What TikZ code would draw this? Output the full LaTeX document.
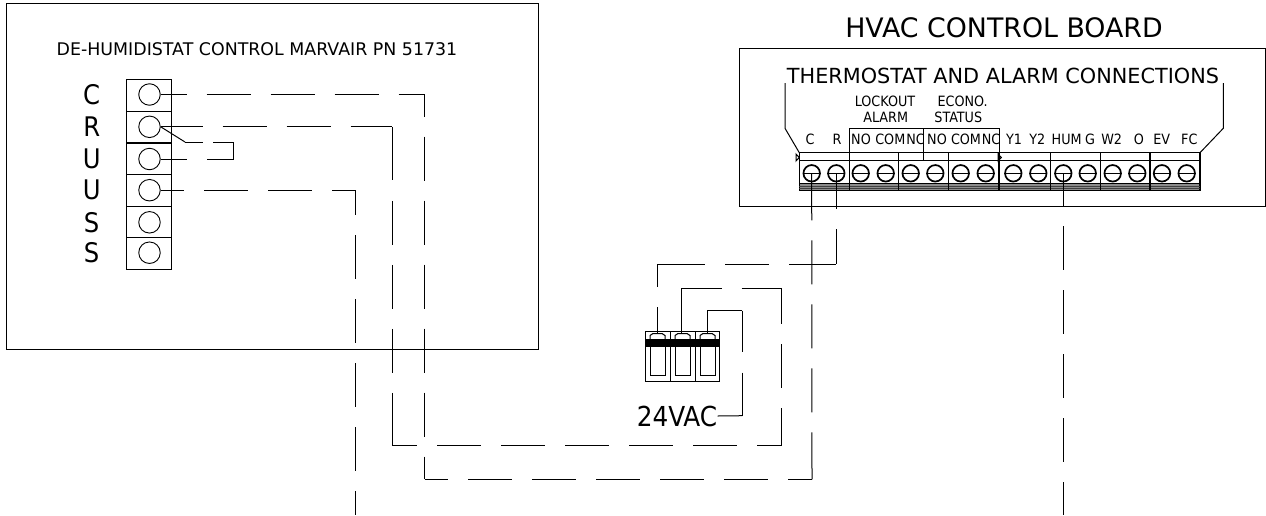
\documentclass[tikz,border=0pt]{standalone}
\usepackage{fontspec}
\setmainfont{DejaVu Sans Condensed}
\newfontfamily\widefont{DejaVu Sans}
\begin{document}
\begin{tikzpicture}[x=1pt, y=-1pt, line width=1pt]
    \tikzset{
        box/.style={draw, line width=1pt},
        wire/.style={draw, line width=1pt, dash pattern=on 44 off 20},
        lug/.style={circle, draw, inner sep=0pt, minimum size=21.5pt, line width=.9pt},
        screw/.style={circle, draw, inner sep=0pt, minimum size=16.5pt, line width=1.7pt},
        pin/.style={font=\fontsize{14.2}{15}\selectfont, inner sep=0pt},
        big/.style={font=\fontsize{27}{28}\selectfont, inner sep=0pt}
    }
    \useasboundingbox (0,0) rectangle (1266,515);
    % de-humidistat
    \node [box, minimum width=532pt, minimum height=346pt, inner sep=0pt] (dhbox) at (272,176) {};
    \node [inner sep=0pt, font=\widefont\fontsize{17.4}{18}\selectfont] (dhtitle) at (257,49) {DE-HUMIDISTAT CONTROL MARVAIR PN 51731};
    \foreach \y/\ty/\l [count=\i] in {79.3/94.5/C, 111/126.8/R, 143/159/U, 174.7/190.2/U, 206/222.3/S, 237.7/252.7/S} {
        \draw (126.7,\y) rectangle (171.7,\y+31.7);
        \node [lug] (lug\i) at (149.5,\ty) {};
        \node [big] (let\i) at (91.7,\ty) {\l};
    }
    % control board
    \node [inner sep=0pt, font=\widefont\fontsize{26.8}{28}\selectfont] (hvac) at (1004,28) {HVAC CONTROL BOARD};
    \node [box, minimum width=526pt, minimum height=158.4pt, inner sep=0pt] (board) at (1002,127.5) {};
    \node [inner sep=0pt, font=\widefont\fontsize{20.8}{21}\selectfont] (therm) at (1003,75.5) {THERMOSTAT AND ALARM CONNECTIONS};
    \draw (785,83) -- (785,128.3) -- (799.3,152.7);
    \draw (1223.3,83) -- (1223.3,128.3) -- (1200,152.7);
    % terminal strip
    \fill [black!45] (799.3,183.3) rectangle (1200,190.7);
    \draw [line width=1.2pt] (799.3,152.7) rectangle (1200,190.7);
    \draw (799.3,160.7) -- (1200,160.7);
    \draw (799.3,183.3) -- (1200,183.3);
    \draw [black!75] (799.3,186.2) -- (1200,186.2);
    \draw [black!75] (799.3,188.5) -- (1200,188.5);
    \foreach \x in {849.3,898.3,948.3,999,1050.7,1100.3,1150} {
        \draw [line width=1.2pt] (\x,152.7) -- (\x,190.7);
    }
    \draw (999,128.3) -- (849.3,128.3);
    \draw (849.3,128.3) -- (849.3,152.7);
    \draw (923.7,128.3) -- (923.7,160.7);
    \draw (999,128.3) -- (999,152.7);
    \draw (796,154) -- (799.3,157.5) -- (796,161) -- cycle;
    \draw (998,154) -- (1001.3,157.5) -- (998,161) -- cycle;
    \foreach \x [count=\i] in {811.7,836.3,860.7,885.7,910.7,935.3,960.7,985.7,1013.3,1038.3,1063.3,1087.7,1112.7,1137.3,1162,1186.7} {
        \node [screw] (scr\i) at (\x,173.3) {};
        \draw (scr\i.west) -- (scr\i.east);
    }
    \foreach \x/\l [count=\i] in {810/C, 837/R, 861/NO, 890.3/COM, 915.5/NC, 937/NO, 966/COM, 991/NC, 1014/Y1, 1037.3/Y2, 1066.7/HUM, 1090/G, 1111.7/W2, 1139/O, 1161.7/EV, 1189.3/FC} {
        \node [pin] (pin\i) at (\x,139) {\l};
    }
    \node [pin] (lock) at (885,101) {LOCKOUT};
    \node [pin] (alarm) at (885.7,117.3) {ALARM};
    \node [pin] (econo) at (962.7,101) {ECONO.};
    \node [pin] (status) at (958.3,117.3) {STATUS};
    % plug
    \node [big, font=\fontsize{27.5}{30}\selectfont] (vac) at (677,416) {24VAC};
    \foreach \x/\a/\b [count=\i] in {645.3/650/665, 670/675/690, 695.7/700/715} {
        \draw (\a,346) -- (\a,375) -- (\b,375) -- (\b,346);
        \draw (\a,339) -- (\a,335.5) -- (\a+3,333.5) -- (\b-3,333.5) -- (\b,335.5) -- (\b,339);
    }
    \draw (645.3,331) rectangle (670,381.7);
    \draw (670,331) rectangle (695.7,381.7);
    \draw (695.7,331) rectangle (719,381.7);
    \fill (645,339) rectangle (719,346.7);
    % wire corners
    \coordinate (ca) at (424.5,94.5);
    \coordinate (cb) at (424.5,479.3);
    \coordinate (cc) at (812,479.3);
    \coordinate (cd) at (811.7,173.3);
    \coordinate (ra) at (392,126.8);
    \coordinate (rb) at (392,445.5);
    \coordinate (rc) at (781,445.5);
    \coordinate (rd) at (781,288);
    \coordinate (re) at (681.7,288);
    \coordinate (rf) at (681.7,333);
    \coordinate (ua) at (355,190.2);
    \coordinate (ub) at (355,515);
    \coordinate (ha) at (1063.3,515);
    \coordinate (pa) at (836.3,264.3);
    \coordinate (pb) at (657.3,264.3);
    \coordinate (pc) at (657.3,333);
    \coordinate (ja) at (185,142);
    \coordinate (jb) at (233.5,142);
    \coordinate (jc) at (233.5,159);
    \coordinate (va) at (707,333);
    \coordinate (vb) at (707,310.7);
    \coordinate (vc) at (742.3,310.7);
    \coordinate (vd) at (742.3,415.7);
    % wires
    \draw [wire, dash phase=18] (lug1.east) -- (ca);
    \draw [wire, dash phase=22] (ca) -- (cb);
    \draw [wire, dash phase=20.5] (cb) -- (cc);
    \draw [wire, dash pattern=on 47 off 20 on 44 off 20 on 44 off 20 on 44 off 20 on 48] (cc) -- (cd);
    \draw [wire, dash phase=2] (lug2.east) -- (ra);
    \draw [wire, dash pattern=on 53 off 21 on 44 off 20 on 44 off 20 on 44 off 20 on 53] (ra) -- (rb);
    \draw [wire, dash phase=19] (rb) -- (rc);
    \draw [wire, dash phase=8] (rd) -- (rc);
    \draw [wire, dash phase=4] (re) -- (rd);
    \draw (re) -- (rf);
    \draw (lug2.east) -- (ja);
    \draw [wire, dash pattern=on 18 off 10 on 21] (ja) -- (jb);
    \draw (jb) -- (jc);
    \draw [wire, dash pattern=on 27 off 20 on 26] (jc) -- (lug3.east);
    \draw [wire, dash phase=20.7] (lug4.east) -- (ua);
    \draw [wire, dash phase=19] (ua) -- (ub);
    \draw [wire, dash phase=11] (scr11.center) -- (ha);
    \draw [wire, dash phase=8] (scr2.center) -- (pa);
    \draw [wire, dash pattern=on 48 off 20 on 44 off 20 on 47] (pb) -- (pa);
    \draw [wire, dash phase=21] (pb) -- (pc);
    \draw (va) -- (vb) -- (vc);
    \draw [wire, dash pattern=on 41 off 21 on 43] (vc) -- (vd);
    \draw (vd) -- (vac.east);
\end{tikzpicture}
\end{document}
